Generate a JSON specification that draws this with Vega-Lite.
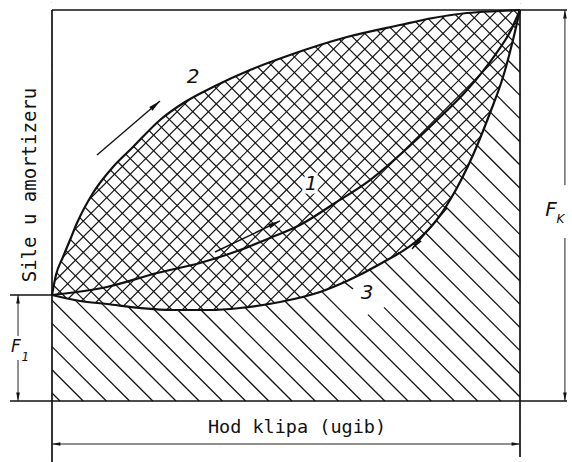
{
"$schema":"https://vega.github.io/schema/vega-lite/v6.json",
"width":572,"height":462,"autosize":{"type":"none"},"padding":0,"background":"white",
"config":{"view":{"stroke":null}},
"datasets":{
"curves":[
{"c":"2","x":0,"y":27.11},{"c":"2","x":0.85,"y":32.23},{"c":"2","x":2.35,"y":36.83},{"c":"2","x":3.85,"y":41.18},{"c":"2","x":5.34,"y":45.52},{"c":"2","x":8.76,"y":53.2},{"c":"2","x":13.03,"y":59.85},{"c":"2","x":17.31,"y":64.96},{"c":"2","x":23.08,"y":71.87},{"c":"2","x":28.42,"y":76.47},{"c":"2","x":34.4,"y":80.31},{"c":"2","x":42.31,"y":84.65},{"c":"2","x":50.85,"y":88.49},{"c":"2","x":63.03,"y":93.09},{"c":"2","x":74.36,"y":96.16},{"c":"2","x":81.41,"y":97.95},{"c":"2","x":88.68,"y":99.23},{"c":"2","x":95.73,"y":99.74},{"c":"2","x":100,"y":100},
{"c":"1","x":0,"y":27.11},{"c":"1","x":11.75,"y":29.16},{"c":"1","x":22.44,"y":32.74},{"c":"1","x":31.62,"y":35.29},{"c":"1","x":40.17,"y":38.62},{"c":"1","x":46.58,"y":41.69},{"c":"1","x":52.99,"y":45.01},{"c":"1","x":60.47,"y":50.64},{"c":"1","x":67.95,"y":56.52},{"c":"1","x":75,"y":63.68},{"c":"1","x":81.84,"y":71.36},{"c":"1","x":88.68,"y":79.54},{"c":"1","x":94.66,"y":88.49},{"c":"1","x":97.86,"y":94.37},{"c":"1","x":100,"y":100},
{"c":"3","x":0,"y":27.11},{"c":"3","x":5.98,"y":25.58},{"c":"3","x":11.75,"y":24.81},{"c":"3","x":18.8,"y":23.79},{"c":"3","x":25.85,"y":23.27},{"c":"3","x":33.76,"y":23.27},{"c":"3","x":40.17,"y":23.79},{"c":"3","x":48.72,"y":25.32},{"c":"3","x":57.26,"y":27.88},{"c":"3","x":63.03,"y":30.69},{"c":"3","x":70.09,"y":35.04},{"c":"3","x":78.63,"y":41.69},{"c":"3","x":81.84,"y":45.78},{"c":"3","x":85.04,"y":51.41},{"c":"3","x":89.96,"y":62.92},{"c":"3","x":93.59,"y":73.66},{"c":"3","x":96.37,"y":82.86},{"c":"3","x":98.5,"y":92.33},{"c":"3","x":100,"y":100}
],
"dense":[
{"x":0,"y":2,"x2":100,"y2":-117.7},{"x":0,"y":6,"x2":100,"y2":-113.7},{"x":0,"y":10,"x2":100,"y2":-109.7},{"x":0,"y":14,"x2":100,"y2":-105.7},{"x":0,"y":18,"x2":100,"y2":-101.7},{"x":0,"y":22,"x2":100,"y2":-97.7},{"x":0,"y":26,"x2":100,"y2":-93.7},{"x":0,"y":30,"x2":100,"y2":-89.7},{"x":0,"y":34,"x2":100,"y2":-85.7},{"x":0,"y":38,"x2":100,"y2":-81.7},{"x":0,"y":42,"x2":100,"y2":-77.7},{"x":0,"y":46,"x2":100,"y2":-73.7},{"x":0,"y":50,"x2":100,"y2":-69.7},{"x":0,"y":54,"x2":100,"y2":-65.7},{"x":0,"y":58,"x2":100,"y2":-61.7},{"x":0,"y":62,"x2":100,"y2":-57.7},{"x":0,"y":66,"x2":100,"y2":-53.7},{"x":0,"y":70,"x2":100,"y2":-49.7},{"x":0,"y":74,"x2":100,"y2":-45.7},{"x":0,"y":78,"x2":100,"y2":-41.7},{"x":0,"y":82,"x2":100,"y2":-37.7},{"x":0,"y":86,"x2":100,"y2":-33.7},{"x":0,"y":90,"x2":100,"y2":-29.7},{"x":0,"y":94,"x2":100,"y2":-25.7},{"x":0,"y":98,"x2":100,"y2":-21.7},{"x":0,"y":102,"x2":100,"y2":-17.7},{"x":0,"y":106,"x2":100,"y2":-13.7},{"x":0,"y":110,"x2":100,"y2":-9.7},{"x":0,"y":114,"x2":100,"y2":-5.7},{"x":0,"y":118,"x2":100,"y2":-1.7},{"x":0,"y":122,"x2":100,"y2":2.3},{"x":0,"y":126,"x2":100,"y2":6.3},{"x":0,"y":130,"x2":100,"y2":10.3},{"x":0,"y":134,"x2":100,"y2":14.3},{"x":0,"y":138,"x2":100,"y2":18.3},{"x":0,"y":142,"x2":100,"y2":22.3},{"x":0,"y":146,"x2":100,"y2":26.3},{"x":0,"y":150,"x2":100,"y2":30.3},{"x":0,"y":154,"x2":100,"y2":34.3},{"x":0,"y":158,"x2":100,"y2":38.3},{"x":0,"y":162,"x2":100,"y2":42.3},{"x":0,"y":166,"x2":100,"y2":46.3},{"x":0,"y":170,"x2":100,"y2":50.3},{"x":0,"y":174,"x2":100,"y2":54.3},{"x":0,"y":178,"x2":100,"y2":58.3},{"x":0,"y":182,"x2":100,"y2":62.3},{"x":0,"y":186,"x2":100,"y2":66.3},{"x":0,"y":190,"x2":100,"y2":70.3},{"x":0,"y":194,"x2":100,"y2":74.3},{"x":0,"y":198,"x2":100,"y2":78.3},{"x":0,"y":202,"x2":100,"y2":82.3},{"x":0,"y":206,"x2":100,"y2":86.3},{"x":0,"y":210,"x2":100,"y2":90.3},{"x":0,"y":214,"x2":100,"y2":94.3},{"x":0,"y":218,"x2":100,"y2":98.3},
{"x":0,"y":-118,"x2":100,"y2":1.7},{"x":0,"y":-114,"x2":100,"y2":5.7},{"x":0,"y":-110,"x2":100,"y2":9.7},{"x":0,"y":-106,"x2":100,"y2":13.7},{"x":0,"y":-102,"x2":100,"y2":17.7},{"x":0,"y":-98,"x2":100,"y2":21.7},{"x":0,"y":-94,"x2":100,"y2":25.7},{"x":0,"y":-90,"x2":100,"y2":29.7},{"x":0,"y":-86,"x2":100,"y2":33.7},{"x":0,"y":-82,"x2":100,"y2":37.7},{"x":0,"y":-78,"x2":100,"y2":41.7},{"x":0,"y":-74,"x2":100,"y2":45.7},{"x":0,"y":-70,"x2":100,"y2":49.7},{"x":0,"y":-66,"x2":100,"y2":53.7},{"x":0,"y":-62,"x2":100,"y2":57.7},{"x":0,"y":-58,"x2":100,"y2":61.7},{"x":0,"y":-54,"x2":100,"y2":65.7},{"x":0,"y":-50,"x2":100,"y2":69.7},{"x":0,"y":-46,"x2":100,"y2":73.7},{"x":0,"y":-42,"x2":100,"y2":77.7},{"x":0,"y":-38,"x2":100,"y2":81.7},{"x":0,"y":-34,"x2":100,"y2":85.7},{"x":0,"y":-30,"x2":100,"y2":89.7},{"x":0,"y":-26,"x2":100,"y2":93.7},{"x":0,"y":-22,"x2":100,"y2":97.7},{"x":0,"y":-18,"x2":100,"y2":101.7},{"x":0,"y":-14,"x2":100,"y2":105.7},{"x":0,"y":-10,"x2":100,"y2":109.7},{"x":0,"y":-6,"x2":100,"y2":113.7},{"x":0,"y":-2,"x2":100,"y2":117.7},{"x":0,"y":2,"x2":100,"y2":121.7},{"x":0,"y":6,"x2":100,"y2":125.7},{"x":0,"y":10,"x2":100,"y2":129.7},{"x":0,"y":14,"x2":100,"y2":133.7},{"x":0,"y":18,"x2":100,"y2":137.7},{"x":0,"y":22,"x2":100,"y2":141.7},{"x":0,"y":26,"x2":100,"y2":145.7},{"x":0,"y":30,"x2":100,"y2":149.7},{"x":0,"y":34,"x2":100,"y2":153.7},{"x":0,"y":38,"x2":100,"y2":157.7},{"x":0,"y":42,"x2":100,"y2":161.7},{"x":0,"y":46,"x2":100,"y2":165.7},{"x":0,"y":50,"x2":100,"y2":169.7},{"x":0,"y":54,"x2":100,"y2":173.7},{"x":0,"y":58,"x2":100,"y2":177.7},{"x":0,"y":62,"x2":100,"y2":181.7},{"x":0,"y":66,"x2":100,"y2":185.7},{"x":0,"y":70,"x2":100,"y2":189.7},{"x":0,"y":74,"x2":100,"y2":193.7},{"x":0,"y":78,"x2":100,"y2":197.7},{"x":0,"y":82,"x2":100,"y2":201.7},{"x":0,"y":86,"x2":100,"y2":205.7},{"x":0,"y":90,"x2":100,"y2":209.7},{"x":0,"y":94,"x2":100,"y2":213.7},{"x":0,"y":98,"x2":100,"y2":217.7}
],
"sparse":[
{"x":0,"y":2.05,"x2":1.71,"y2":0},{"x":0,"y":7.98,"x2":6.67,"y2":0},{"x":0,"y":13.91,"x2":11.62,"y2":0},{"x":0,"y":19.85,"x2":16.58,"y2":0},{"x":0,"y":25.78,"x2":21.54,"y2":0},{"x":4.89,"y":25.86,"x2":26.5,"y2":0},{"x":10.6,"y":24.96,"x2":31.45,"y2":0},{"x":16.22,"y":24.17,"x2":36.41,"y2":0},{"x":21.67,"y":23.58,"x2":41.37,"y2":0},{"x":26.88,"y":23.27,"x2":46.32,"y2":0},{"x":31.84,"y":23.27,"x2":51.28,"y2":0},{"x":36.6,"y":23.5,"x2":56.24,"y2":0},{"x":41.18,"y":23.96,"x2":61.2,"y2":0},{"x":45.49,"y":24.73,"x2":66.15,"y2":0},{"x":49.7,"y":25.63,"x2":71.11,"y2":0},{"x":53.68,"y":26.8,"x2":76.07,"y2":0},{"x":57.61,"y":28.03,"x2":81.03,"y2":0},{"x":67.52,"y":22.1,"x2":85.98,"y2":0},{"x":70.94,"y":23.94,"x2":90.94,"y2":0},{"x":67.8,"y":33.63,"x2":95.9,"y2":0},
{"x":70.98,"y":35.75,"x2":100,"y2":1.02},{"x":74,"y":38.08,"x2":100,"y2":6.96},{"x":77.01,"y":40.41,"x2":100,"y2":12.89},{"x":79.72,"y":43.09,"x2":100,"y2":18.82},{"x":82.07,"y":46.21,"x2":100,"y2":24.76},{"x":84.08,"y":49.74,"x2":100,"y2":30.69},{"x":85.92,"y":53.48,"x2":100,"y2":36.62},{"x":87.61,"y":57.39,"x2":100,"y2":42.56},{"x":89.27,"y":61.33,"x2":100,"y2":48.49},{"x":90.81,"y":65.42,"x2":100,"y2":54.42},{"x":92.24,"y":69.64,"x2":100,"y2":60.36},{"x":93.65,"y":73.89,"x2":100,"y2":66.29},{"x":94.98,"y":78.24,"x2":100,"y2":72.23},{"x":96.28,"y":82.61,"x2":100,"y2":78.16},{"x":97.35,"y":87.26,"x2":100,"y2":84.09},{"x":98.42,"y":91.92,"x2":100,"y2":90.03},{"x":99.36,"y":96.73,"x2":100,"y2":95.96}
],
"frame":[
{"x":0,"y":100,"x2":110.04,"y2":100},{"x":-8.97,"y":0,"x2":110.04,"y2":0},{"x":0,"y":100,"x2":0,"y2":-15.6},{"x":100,"y":100,"x2":100,"y2":-14.3},{"x":-8.97,"y":27.11,"x2":0,"y2":27.11}
],
"dims":[
{"x":0,"y":-11,"x2":100,"y2":-11},{"x":109.6,"y":100,"x2":109.6,"y2":55.2},{"x":109.6,"y":41.7,"x2":109.6,"y2":0},{"x":-7.26,"y":27.11,"x2":-7.26,"y2":16.62},{"x":-7.26,"y":10.49,"x2":-7.26,"y2":0}
],
"heads":[
{"x":0,"y":-11,"dir":"left"},{"x":100,"y":-11,"dir":"right"},{"x":109.6,"y":100,"dir":"up"},{"x":109.6,"y":0,"dir":"down"},{"x":-7.26,"y":27.11,"dir":"up"},{"x":-7.26,"y":0,"dir":"down"}
],
"flows":[
{"c":"2","x":9.62,"y":62.92,"x2":23.08,"y2":76.73},{"c":"1","x":34.83,"y":38.11,"x2":48.72,"y2":46.04},{"c":"3","x":84.4,"y":49.36,"x2":76.92,"y2":38.87}
],
"tips":[
{"c":"2","x":23.08,"y":76.73},{"c":"1","x":48.72,"y":46.04},{"c":"3","x":76.92,"y":38.87}
],
"nums":[
{"t":"2","x":30.13,"y":82.86},{"t":"1","x":55.34,"y":55.5},{"t":"3","x":67.31,"y":27.62}
],
"leaders":[
{"x":62.18,"y":30.69,"x2":64.32,"y2":28.64}
]
},
"encoding":{
"x":{"field":"x","type":"quantitative","scale":{"domain":[-11.11,111.11],"nice":false,"zero":false},"axis":null},
"y":{"field":"y","type":"quantitative","scale":{"domain":[-15.6,102.56],"nice":false,"zero":false},"axis":null}
},
"layer":[
{"data":{"name":"dense"},"mark":{"type":"rule","color":"#151515","strokeWidth":1.2,"clip":true},"encoding":{"x2":{"field":"x2"},"y2":{"field":"y2"}}},
{"data":{"name":"curves"},"transform":[{"filter":"datum.c === '3'"}],"mark":{"type":"area","color":"white","opacity":1,"interpolate":"monotone","clip":true},"encoding":{"y2":{"datum":-16}}},
{"data":{"name":"curves"},"transform":[{"filter":"datum.c === '2'"}],"mark":{"type":"area","color":"white","opacity":1,"interpolate":"monotone","clip":true},"encoding":{"y2":{"datum":103}}},
{"data":{"name":"sparse"},"mark":{"type":"rule","color":"#151515","strokeWidth":1.3},"encoding":{"x2":{"field":"x2"},"y2":{"field":"y2"}}},
{"data":{"name":"frame"},"mark":{"type":"rule","color":"#111","strokeWidth":1.7},"encoding":{"x2":{"field":"x2"},"y2":{"field":"y2"}}},
{"data":{"name":"dims"},"mark":{"type":"rule","color":"#222","strokeWidth":1},"encoding":{"x2":{"field":"x2"},"y2":{"field":"y2"}}},
{"data":{"name":"leaders"},"mark":{"type":"rule","color":"#111","strokeWidth":1.5},"encoding":{"x2":{"field":"x2"},"y2":{"field":"y2"}}},
{"data":{"name":"heads"},"mark":{"type":"point","filled":true,"opacity":1,"color":"#111","size":64},"encoding":{"shape":{"field":"dir","type":"nominal","scale":{"domain":["up","down","left","right"],"range":["M0,0L0.45,2.1L-0.45,2.1Z","M0,0L0.45,-2.1L-0.45,-2.1Z","M0,0L2.1,0.45L2.1,-0.45Z","M0,0L-2.1,0.45L-2.1,-0.45Z"]},"legend":null}}},
{"data":{"name":"curves"},"mark":{"type":"line","interpolate":"monotone","color":"#111","strokeWidth":2.2},"encoding":{"detail":{"field":"c"}}},
{"data":{"name":"flows"},"mark":{"type":"rule","color":"#111","strokeWidth":1.4},"encoding":{"x2":{"field":"x2"},"y2":{"field":"y2"}}},
{"data":{"name":"tips"},"transform":[{"filter":"datum.c === '2'"}],"mark":{"type":"point","filled":true,"opacity":1,"color":"#111","size":100,"angle":49.4,"shape":"M0,0L0.5,2.4L-0.5,2.4Z"}},
{"data":{"name":"tips"},"transform":[{"filter":"datum.c === '1'"}],"mark":{"type":"point","filled":true,"opacity":1,"color":"#111","size":100,"angle":64.5,"shape":"M0,0L0.5,2.4L-0.5,2.4Z"}},
{"data":{"name":"tips"},"transform":[{"filter":"datum.c === '3'"}],"mark":{"type":"point","filled":true,"opacity":1,"color":"#111","size":100,"angle":220.5,"shape":"M0,0L0.5,2.4L-0.5,2.4Z"}},
{"data":{"name":"nums"},"mark":{"type":"text","font":"DejaVu Sans","fontSize":20,"fontStyle":"italic","align":"center","baseline":"middle","color":"white","stroke":"white","strokeWidth":7},"encoding":{"text":{"field":"t"}}},
{"data":{"name":"nums"},"mark":{"type":"text","font":"DejaVu Sans","fontSize":20,"fontStyle":"italic","align":"center","baseline":"middle","color":"#111"},"encoding":{"text":{"field":"t"}}},
{"data":{"values":[{"t":"Hod klipa (ugib)","x":52.35,"y":-6.65}]},"mark":{"type":"text","font":"DejaVu Sans Mono","fontSize":18.5,"align":"center","baseline":"middle","color":"#111"},"encoding":{"text":{"field":"t"}}},
{"data":{"values":[{"t":"Sile u amortizeru","x":-4.7,"y":55.24}]},"mark":{"type":"text","font":"DejaVu Sans Mono","fontSize":19,"angle":270,"align":"center","baseline":"middle","color":"#111"},"encoding":{"text":{"field":"t"}}},
{"data":{"values":[{"t":"F","x":106.62,"y":48.85}]},"mark":{"type":"text","font":"DejaVu Sans","fontSize":20,"fontStyle":"italic","align":"center","baseline":"middle","color":"#111"},"encoding":{"text":{"field":"t"}}},
{"data":{"values":[{"t":"F","x":-7.69,"y":13.81}]},"mark":{"type":"text","font":"DejaVu Sans","fontSize":17,"fontStyle":"italic","align":"center","baseline":"middle","color":"#111"},"encoding":{"text":{"field":"t"}}},
{"data":{"values":[{"t":"K","x":107.8,"y":46.6},{"t":"1","x":-6.5,"y":11.2}]},"mark":{"type":"text","font":"DejaVu Sans","fontSize":12,"fontStyle":"italic","align":"left","baseline":"middle","color":"#111"},"encoding":{"text":{"field":"t"}}}
]
}
